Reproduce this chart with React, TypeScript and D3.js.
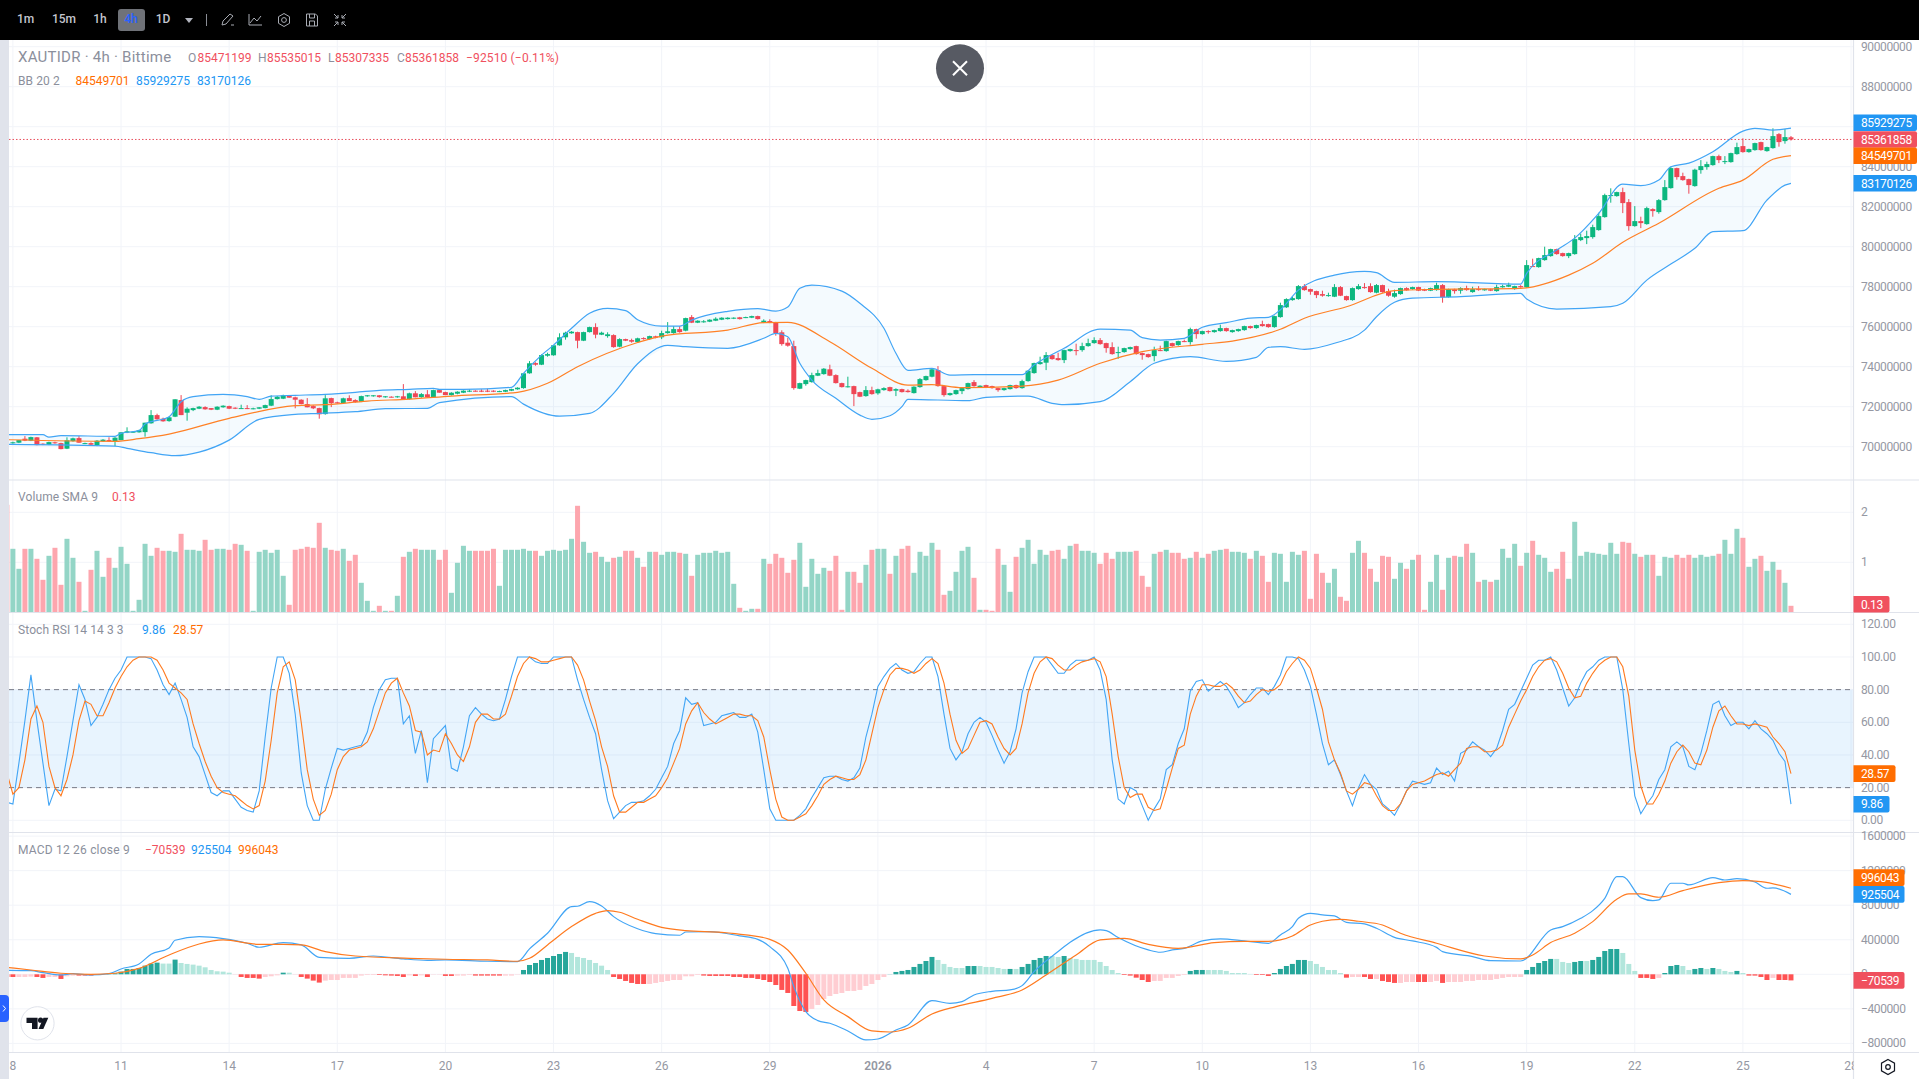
import React from "react";
import * as d3 from "d3";

// ---------- data (prices in millions, MACD in thousands) ----------
const dateLabels = ["8","11","14","17","20","23","26","29","2026","4","7","10","13","16","19","22","25","28"];
const priceTicks = [90,88,86,84,82,80,78,76,74,72,70];
const volumeTicks = [1,2];
const stochTicks = [0,20,40,60,80,100,120];
const macdTicks = [1600,1200,800,400,0,-400,-800];

// open, high, low, close per bar
const ohlc: number[][] = [
[70.18,70.25,70.15,70.22],[70.2,70.33,70.18,70.33],[70.4,70.53,70.28,70.3],[70.3,70.5,70.28,70.48],[70.47,70.48,70.07,70.08],[70.15,70.17,70.08,70.1],[70.1,70.25,70.08,70.23],[70.22,70.25,70.15,70.17],[70.18,70.2,69.87,69.88],[69.9,70.47,69.88,70.32],
[70.28,70.45,70.25,70.42],[70.43,70.53,70.2,70.2],[70.15,70.2,70.13,70.18],[70.18,70.22,70.05,70.1],[70.08,70.33,70.03,70.3],[70.27,70.38,70.25,70.35],[70.33,70.47,70.25,70.27],[70.28,70.48,70.03,70.45],[70.33,70.72,70.33,70.72],[70.7,70.97,70.68,70.77],
[70.72,70.77,70.7,70.75],[70.72,70.85,70.7,70.82],[70.73,71.2,70.5,71.2],[71.17,71.83,71.15,71.58],[71.58,71.65,71.35,71.37],[71.4,71.45,71.25,71.27],[71.28,71.5,71.25,71.47],[71.5,72.37,71.48,72.37],[72.33,72.58,71.58,71.58],[71.7,71.97,71.3,71.9],
[71.83,71.95,71.78,71.93],[71.9,72.03,71.88,72.0],[71.98,72.02,71.85,71.87],[71.93,71.93,71.83,71.85],[71.85,72.02,71.83,72.0],[71.97,72.07,71.95,72.05],[72.03,72.05,71.88,71.9],[71.95,71.97,71.88,71.9],[71.92,72.1,71.9,71.93],[71.93,72.08,71.88,71.9],
[71.88,71.95,71.87,71.92],[71.9,71.98,71.88,71.97],[71.93,72.1,71.92,72.08],[72.05,72.57,72.03,72.38],[72.38,72.53,72.36,72.5],[72.4,72.6,72.38,72.57],[72.55,72.57,72.45,72.45],[72.47,72.5,71.92,72.35],[72.35,72.37,72.12,72.13],[72.13,72.43,71.97,71.97],
[72.03,72.07,71.88,71.92],[71.93,71.95,71.4,71.62],[71.63,72.58,71.6,72.42],[72.43,72.45,71.98,72.18],[72.22,72.25,72.15,72.18],[72.18,72.45,72.15,72.42],[72.43,72.57,72.28,72.28],[72.33,72.37,72.2,72.23],[72.25,72.55,72.23,72.53],[72.52,72.58,72.5,72.57],
[72.53,72.58,72.5,72.57],[72.57,72.58,72.45,72.48],[72.47,72.53,72.45,72.52],[72.5,72.52,72.46,72.47],[72.47,72.54,72.45,72.52],[72.52,73.13,72.38,72.38],[72.38,72.7,72.36,72.67],[72.67,72.78,72.47,72.47],[72.48,72.68,72.45,72.63],[72.62,72.83,72.45,72.47],
[72.47,72.85,72.45,72.83],[72.83,72.87,72.7,72.7],[72.73,72.75,72.58,72.58],[72.58,72.72,72.56,72.7],[72.65,72.77,72.62,72.75],[72.7,72.82,72.68,72.8],[72.75,72.87,72.73,72.8],[72.8,72.82,72.75,72.75],[72.8,72.87,72.73,72.75],[72.8,72.9,72.73,72.75],
[72.8,72.82,72.73,72.75],[72.75,72.8,72.73,72.78],[72.75,72.85,72.73,72.83],[72.8,72.9,72.78,72.88],[72.87,72.97,72.85,72.95],[72.93,73.67,72.9,73.67],[73.67,74.28,73.65,74.17],[74.18,74.22,74.05,74.1],[74.1,74.62,74.08,74.58],[74.55,74.7,74.5,74.63],
[74.57,75.07,74.55,75.07],[75.07,75.67,75.05,75.47],[75.47,75.75,75.35,75.7],[75.67,75.78,75.65,75.75],[75.73,75.75,74.92,75.3],[75.3,75.75,75.28,75.73],[75.73,76.0,75.71,75.98],[75.98,76.17,75.42,75.6],[75.6,75.75,75.58,75.7],[75.53,75.72,75.45,75.62],
[75.58,75.62,74.95,74.98],[75.0,75.42,74.97,75.38],[75.38,75.4,75.28,75.3],[75.33,75.4,75.2,75.25],[75.23,75.45,75.2,75.42],
[75.43,75.47,75.35,75.38],[75.38,75.55,75.35,75.53],[75.52,75.55,75.42,75.45],[75.47,75.8,75.38,75.68],[75.68,76.23,75.65,75.77],[75.68,76.03,75.65,75.88],[75.88,76.03,75.7,75.73],[75.8,76.45,75.77,76.43],[76.48,76.58,76.18,76.2],[76.2,76.32,76.18,76.3],
[76.25,76.33,76.2,76.27],[76.25,76.37,76.23,76.35],[76.3,76.47,76.28,76.4],[76.35,76.47,76.33,76.45],[76.38,76.47,76.36,76.45],[76.4,76.47,76.38,76.45],[76.47,76.49,76.36,76.38],[76.45,76.5,76.43,76.48],[76.45,76.55,76.43,76.53],[76.53,76.55,76.36,76.38],
[76.2,76.37,76.18,76.3],[76.28,76.37,76.18,76.2],[76.22,76.24,75.55,75.68],[75.72,75.82,75.05,75.13],[75.2,75.45,75.0,75.05],[75.03,75.3,72.85,72.93],[72.9,73.2,72.88,73.18],[73.13,73.35,73.05,73.33],[73.23,73.7,73.2,73.58],[73.55,73.85,73.53,73.68],
[73.63,73.93,73.6,73.9],[73.87,74.1,73.53,73.55],[73.58,73.62,73.16,73.18],[73.18,73.2,72.96,72.98],[72.98,73.5,72.96,73.02],[73.03,73.05,72.03,72.63],[72.73,72.75,72.48,72.5],[72.53,73.03,72.5,72.83],[72.83,73.0,72.6,72.63],[72.67,72.9,72.6,72.87],
[72.83,72.97,72.8,72.93],[72.98,73.0,72.76,72.78],[72.8,72.92,72.53,72.88],[72.88,72.9,72.71,72.73],[72.8,72.87,72.71,72.73],[72.68,73.02,72.66,73.0],[72.98,73.43,72.95,73.38],[73.33,73.55,73.3,73.53],[73.5,73.9,73.47,73.87],[73.83,74.03,73.0,73.03],
[73.03,73.05,72.5,72.58],[72.58,72.7,72.55,72.68],[72.63,72.85,72.6,72.83],[72.78,72.95,72.63,72.93],[72.88,73.2,72.86,73.18],[73.23,73.33,73.0,73.03],[72.98,73.07,72.96,73.05],[73.08,73.1,72.96,72.98],[73.03,73.05,72.9,72.93],[72.93,72.95,72.75,72.83],
[72.83,72.95,72.8,72.93],[72.88,73.1,72.86,73.08],[73.08,73.1,72.9,72.93],[72.93,73.35,72.9,73.28],[73.28,73.82,73.25,73.8],[73.68,74.2,73.65,74.18],[74.13,74.5,74.1,74.23],[74.2,74.73,73.83,74.58],[74.58,74.6,74.35,74.38],[74.43,74.7,74.3,74.33],
[74.33,74.85,74.18,74.83],[74.78,74.9,74.75,74.88],[74.83,75.15,74.57,74.8],[74.83,75.2,74.75,75.03],[75.03,75.4,75.0,75.18],[75.18,75.47,75.15,75.33],[75.33,75.43,75.1,75.13],[75.18,75.2,74.7,74.93],[74.98,75.22,74.6,74.63],[74.7,75.0,74.4,74.73],
[74.73,74.95,74.7,74.93],[74.88,75.0,74.85,74.98],[75.03,75.05,74.6,74.63],[74.68,74.7,74.35,74.58],[74.63,74.65,74.45,74.48],[74.53,75.0,74.27,74.83],[74.83,75.05,74.78,74.8],[74.78,75.3,74.75,75.28],[75.18,75.2,75.0,75.03],[75.08,75.3,75.05,75.28],
[75.28,75.35,75.23,75.25],[75.23,75.95,75.1,75.88],[75.88,75.9,75.4,75.63],[75.63,75.8,75.6,75.78],[75.78,75.82,75.65,75.73],[75.73,75.85,75.7,75.83],[75.78,76.1,75.75,75.93],[75.93,75.95,75.75,75.78],[75.73,75.85,75.7,75.83],[75.78,75.9,75.75,75.88],
[75.83,76.05,75.8,76.03],[76.03,76.05,75.9,75.93],[75.93,76.1,75.9,76.08],[76.13,76.3,76.0,76.03],[76.13,76.15,75.95,75.98],[75.98,76.55,75.95,76.53],[76.48,77.2,76.45,77.08],
[76.97,77.42,76.94,77.38],[77.33,77.5,77.3,77.43],[77.38,78.08,77.35,78.03],[78.03,78.13,77.8,77.83],[77.88,77.9,77.6,77.75],[77.78,77.8,77.43,77.58],[77.63,77.8,77.5,77.55],[77.53,77.7,77.5,77.58],[77.5,78.13,77.48,77.98],[77.98,78.03,77.53,77.55],
[77.53,77.55,77.3,77.33],[77.33,77.96,77.3,77.93],[77.88,78.13,77.85,78.03],[77.98,78.18,77.9,77.93],[78.03,78.17,77.7,77.73],[77.7,78.13,77.67,78.08],[78.08,78.1,77.7,77.73],[77.78,77.9,77.5,77.55],[77.5,77.85,77.45,77.68],[77.63,77.95,77.6,77.93],
[77.93,77.97,77.8,77.82],[77.88,78.0,77.85,77.98],[77.98,78.0,77.78,77.8],[77.88,77.9,77.78,77.8],[77.8,77.95,77.78,77.93],[77.83,78.2,77.8,78.08],[78.08,78.13,77.2,77.47],[77.48,77.9,77.45,77.88],[77.87,77.9,77.65,77.78],[77.8,77.97,77.65,77.93],
[77.93,78.05,77.8,77.83],[77.73,78.0,77.7,77.88],[77.88,78.03,77.8,77.83],[77.82,77.9,77.8,77.88],[77.87,77.9,77.78,77.8],[77.78,78.1,77.75,77.98],[77.97,78.1,77.95,78.03],[78.0,78.2,77.98,78.08],[77.88,78.05,77.85,78.03],[78.03,78.08,77.95,77.97],
[77.97,79.33,77.95,79.08],[79.03,79.4,79.0,79.0],[78.98,79.45,78.95,79.43],[79.33,80.0,79.3,79.58],[79.53,79.9,79.5,79.88],[79.88,79.9,79.6,79.63],[79.68,79.7,79.5,79.53],[79.53,79.7,79.43,79.68],[79.63,80.58,79.6,80.38],[80.33,80.65,80.28,80.48],
[80.43,80.8,80.13,80.53],[80.48,81.1,80.4,80.98],[80.83,81.7,80.8,81.53],[81.48,82.65,81.45,82.58],[82.53,82.92,82.2,82.58],[82.53,82.75,82.5,82.73],[82.73,82.95,81.68,82.18],[82.23,82.38,80.8,81.03],[81.03,82.03,81.0,81.28],[81.28,81.5,80.93,81.18],
[81.13,82.0,81.1,81.93],[81.88,81.92,81.5,81.78],[81.73,82.38,81.65,82.33],[82.33,83.33,82.3,82.98],[82.93,84.0,82.9,83.93],[83.93,83.95,83.35,83.48],[83.53,83.7,83.3,83.33],[83.38,83.4,82.65,83.08],[83.03,83.9,83.0,83.85],[83.83,84.33,83.65,84.03],
[83.98,84.25,83.85,84.13],[84.08,84.55,84.05,84.53],[84.53,84.6,84.18,84.33],[84.23,84.53,84.13,84.28],[84.23,84.7,84.2,84.68],[84.63,85.2,84.6,84.98],[85.03,85.42,84.7,84.73],[84.73,84.9,84.7,84.88],[84.83,85.2,84.8,85.18],[85.23,85.25,84.8,84.83],
[84.78,85.0,84.75,84.98],[84.93,85.92,84.9,85.53],[85.63,85.68,85.0,85.23],[85.28,85.88,85.15,85.48],[85.471,85.535,85.307,85.362]];

// volume, first entry is the bar clipped at the left edge
const volumes = [2.15,
1.27,.87,1.27,1.27,1.07,.65,1.13,1.29,.55,1.47,1.09,.61,.03,.85,1.23,.71,1.09,.89,1.31,.97,.03,.25,1.37,1.13,1.29,1.23,1.23,1.21,1.57,1.25,1.25,1.23,1.45,1.25,1.27,1.27,1.25,1.37,1.35,1.23,.03,1.21,1.25,1.19,1.25,.73,.15,1.25,1.27,1.31,1.29,1.79,1.29,1.25,1.23,1.27,1.03,1.15,.59,.23,.03,.13,.03,.03,.33,1.11,1.21,1.27,1.25,1.25,1.25,1.05,1.25,.39,.99,1.33,1.23,1.23,1.23,1.23,1.27,.53,1.25,1.25,1.25,1.27,1.23,1.23,1.13,1.23,1.25,1.23,1.25,1.47,2.13,1.41,1.19,1.21,1.11,1.01,1.09,1.11,1.23,1.23,1.09,
.91,1.21,1.21,1.15,1.21,1.21,1.19,1.17,.73,1.15,1.19,1.19,1.23,1.19,1.21,.57,.09,.03,.07,.07,1.07,.97,1.17,1.09,.79,1.05,1.39,.51,1.07,.77,.89,.83,1.13,.05,.81,.81,.59,.95,1.25,1.27,1.27,.77,1.13,1.27,1.33,.79,1.21,1.13,1.39,1.25,.35,.43,.81,1.23,1.31,.69,.05,.05,.03,1.27,.95,.41,1.11,1.29,1.45,.97,1.25,1.15,1.23,1.25,1.07,1.33,1.37,1.23,1.23,1.19,.97,1.19,1.07,1.21,1.21,1.21,1.23,.73,.51,1.17,1.21,1.25,1.19,1.19,1.07,1.09,1.21,1.09,1.17,1.23,1.25,1.27,1.21,1.21,1.19,1.07,1.23,1.13,.61,1.19,1.17,
.61,1.21,1.15,1.23,.27,1.17,.79,.59,.87,.31,.23,1.19,1.43,1.19,.87,.61,1.13,1.11,.67,.99,.87,1.05,1.15,.05,.61,1.15,.45,1.09,1.13,1.11,1.37,1.19,.61,.65,.61,.65,1.27,1.09,1.37,.93,1.19,1.43,1.15,1.09,.81,.87,1.21,.67,1.81,1.13,1.21,1.19,1.17,1.15,1.39,1.17,1.41,1.39,1.17,1.11,1.15,1.15,.73,1.11,1.09,1.15,1.09,1.15,1.09,1.15,1.11,1.13,1.17,1.45,1.17,1.67,1.49,.91,1.07,1.13,.83,1.01,.85,.59,.13];
const volumeDirs = "R"+
"GGRGRRGRRG"+"GRGRGGRGGG"+"GGGGRRGGRG"+"GGRRGGRRGR"+"GGGGGGRRRR"+"RRGRRGRRGG"+"GRGRGRGRGG"+"GRRGGGGRRR"+"RGGGGGGRGG"+"GGGGRGGRGG"+"RGRRG"+
"RGRGGGRGRG"+"GGGGGGRGGR"+"GRRRRRGGGG"+"GRRRGRRGRG"+"GRGRRGGGGR"+"RGGGGRGRRR"+"GGRGGGGGRR"+"GGRGGGRRRG"+"GGRRRGRGRR"+"RGRGRGGRGG"+"GRGRRGG"+
"GGGRRRRGGR"+"RGGRRGRRGG"+"RGRRGGRGRG"+"RGRGRGGGGR"+"GRGGGRRGGG"+"GGGGGGRRGR"+"GRGGGRRRGG"+"GGRGGGRGGR"+"GGRGR";

// stoch RSI %K and %D, first entry is the bar clipped at the left edge
const stochK = [11,
10,35,61,89,61,35,9,19,18,39,61,83,74,58,63,71,80,87,92,100,100,100,100,99,92,83,77,84,74,63,45,39,28,17,15,18,18,13,8,6,5,18,51,81,100,100,90,65,29,9,0,0,19,32,44,43,44,45,46,54,69,80,86,87,87,59,64,41,55,23,50,54,58,32,30,45,64,69,65,62,61,62,74,88,100,100,100,97,96,96,100,100,100,100,86,74,63,53,31,12,1,5,9,11,11,
12,15,19,26,33,47,55,75,71,72,58,59,60,64,65,66,63,63,65,54,31,7,0,0,0,0,3,7,14,20,26,27,27,25,24,26,32,51,65,82,88,93,96,92,90,91,96,100,100,88,65,44,37,42,53,60,63,60,52,43,35,42,56,78,91,100,100,100,95,90,90,95,98,98,98,100,92,74,37,13,10,20,18,9,0,7,13,31,34,47,56,79,85,86,79,82,85,82,76,69,72,77,81,81,77,82,89,
100,100,99,92,82,65,47,34,37,28,18,9,20,28,22,19,10,7,3,10,18,24,23,22,23,32,28,30,24,41,43,48,45,43,39,44,55,68,71,79,87,95,98,98,100,92,81,70,75,84,91,94,98,100,100,100,80,47,15,4,10,15,25,31,45,48,45,33,31,41,55,71,73,64,58,60,60,56,61,56,53,49,41,36,9.86];
const stochD = [29,
16,20,37,62,70,60,33,20,15,25,40,61,73,71,64,64,72,81,88,94,98,100,100,100,98,92,84,81,78,74,59,47,36,27,20,17,16,15,12,9,7,9,24,49,78,94,97,86,60,31,13,3,6,16,31,39,43,44,45,48,56,67,78,84,87,78,70,55,54,40,43,42,53,47,40,36,45,60,65,65,62,62,65,76,88,96,100,99,97,97,98,99,100,100,95,86,73,61,45,33,15,5,5,8,11,
11,13,15,20,26,35,44,59,67,72,66,62,59,61,63,65,65,64,64,61,51,31,13,2,0,0,2,4,9,15,22,25,27,26,25,25,28,37,53,69,80,89,93,93,92,90,92,96,99,96,84,65,49,41,44,52,60,61,59,51,44,40,44,59,78,90,97,100,99,95,92,92,95,97,98,99,97,88,65,39,20,14,16,16,8,6,7,19,32,44,46,65,76,83,83,82,82,84,81,76,72,73,77,80,79,80,83,
91,96,100,98,93,81,68,48,37,29,18,16,19,23,22,15,9,6,6,10,18,22,23,24,26,28,29,27,31,35,44,45,45,42,42,43,46,57,65,73,80,88,94,98,99,97,90,81,75,76,84,90,95,98,100,100,94,76,43,21,10,10,16,24,35,42,46,42,35,34,43,57,67,70,64,59,59,58,59,58,57,51,47,42,28.57];

// MACD histogram, first entry is the bar clipped at the left edge
const macdHist = [-31,
-31,-31,-31,-27,-31,-42,-31,-31,-54,-23,-15,-15,-15,-15,-8,-4,8,12,31,62,62,73,100,124,135,124,124,170,131,120,112,100,81,50,35,31,19,-4,-31,-42,-42,-50,-31,-23,-12,19,19,-4,-31,-50,-73,-96,-73,-66,-66,-42,-42,-42,-15,-8,-8,-8,-12,-15,-19,-31,-12,-19,-12,-31,-4,-4,-19,-19,-15,-15,-8,-15,-15,-15,-15,-15,-15,-15,-4,50,108,131,166,189,212,235,259,247,201,189,166,131,100,50,-31,-54,-77,-100,-112,
-112,-112,-100,-89,-77,-66,-66,-23,-23,-8,-15,-19,-19,-19,-19,-31,-31,-42,-42,-54,-66,-89,-124,-181,-216,-367,-425,-436,-401,-355,-286,-251,-228,-216,-193,-193,-181,-135,-112,-66,-31,2,27,39,50,85,120,154,201,166,120,85,73,73,96,96,96,85,85,73,62,62,62,85,120,166,189,212,212,201,212,189,178,166,166,166,143,96,50,15,-8,-15,-39,-66,-89,-77,-77,-42,-42,-19,-8,39,50,50,50,50,50,39,15,15,15,4,-8,-8,-19,15,62,
96,120,166,166,154,120,85,50,50,15,-39,-31,-31,-31,-54,-54,-77,-89,-100,-100,-89,-89,-89,-89,-89,-77,-100,-89,-89,-89,-77,-77,-66,-66,-66,-54,-42,-31,-31,-31,50,85,131,154,178,178,143,131,143,154,154,166,201,270,293,293,247,120,39,-42,-42,-54,-42,15,96,108,96,50,62,73,62,73,62,39,27,39,15,-15,-15,-31,-66,-42,-66,-66,-70.539];
const macdHistKinds = "R"+
"RPPPRRPPRP"+"PRRRPPDDDD"+"DDDDDLLDLL"+"LLLLLLLPRR"+"RRPPPDLPRR"+"RRPPPPPPPP"+"PRRRRRPRPR"+"PPRRPPPRRR"+"RRPPPDDDDD"+"DDDLLLLLLL"+"RRRRR"+
"RPPPPPPPPP"+"RRRRRRRRRR"+"RRRRRRRRPP"+"PPPPPPPPPP"+"PDDDDDDDDL"+"LLLLDDLLLL"+"LDLDDDDDLL"+"DLLLLLLLLL"+"RRRRRPPPPP"+"PDDDLLLLLL"+"LLRRRDD"+
"DDDDLLLLLL"+"RPPRRPRRRP"+"PPRRPPRPPP"+"PPPPPPPPPP"+"DDDDDLLLDD"+"LDDDDDLLLR"+"RRPDDDLLDD"+"LDLLLDLRRR"+"RPRRR";

// [bar, value] points
const bbUpper = [[-1,70.6],[5,70.6],[6,70.48],[8,70.55],[17,70.52],[18,70.67],[21,70.8],[22,71.13],[26,71.5],[28,72.25],[30,72.5],[35,72.62],[39,72.5],[41,72.37],[43,72.53],[47,72.57],[52,72.62],[57,72.72],[61,72.82],[66,72.87],[70,72.92],[71,72.87],[75,72.87],[83,72.97],[85,73.67],[88,74.58],[90,75.08],[93,75.92],[96,76.67],[99,76.92],[102,76.8],[104,76.35],[108,76.03],[111,76.03],[113,76.33],[119,76.77],[124,76.9],[127,76.78],[129,76.98],[131,77.92],[133,78.08],[138,77.78],[141,77.17],[145,75.92],[147,74.67],[149,73.82],[153,73.92],[156,73.58],[160,73.6],[168,73.6],[170,74.08],[175,74.92],[181,75.88],[186,75.83],[188,75.45],[191,75.33],[195,75.42],[198,75.97],[202,76.2],[206,76.43],[209,76.47],[211,76.85],[214,77.83],[220,78.58],[225,78.77],[227,78.7],[230,78.22],[237,78.25],[251,78.13],[252,78.67],[257,79.83],[260,80.43],[264,81.67],[268,83.13],[271,83.05],[274,83.33],[276,84.0],[279,84.18],[283,84.75],[288,85.78],[290,85.92],[293,85.83],[296,85.929]];
const bbMiddle = [[-1,70.35],[17,70.27],[21,70.4],[26,70.63],[36,71.42],[47,72.05],[52,72.1],[59,72.28],[66,72.38],[73,72.53],[84,72.72],[89,73.17],[94,74.0],[104,75.21],[108,75.53],[119,75.83],[125,76.2],[129,76.22],[136,75.25],[143,73.92],[149,73.08],[153,73.1],[158,72.95],[168,73.03],[174,73.33],[181,74.17],[188,74.75],[198,75.12],[203,75.28],[211,75.87],[215,76.42],[222,77.0],[230,77.8],[237,77.87],[251,77.92],[259,78.58],[263,79.17],[268,80.22],[274,81.17],[284,82.92],[288,83.33],[293,84.37],[296,84.55]];
const bbLower = [[-1,70.12],[17,70.03],[19,69.92],[23,69.7],[27,69.55],[31,69.73],[36,70.33],[41,71.37],[47,71.62],[51,71.67],[57,71.75],[62,71.9],[69,71.92],[71,72.2],[83,72.5],[85,72.13],[91,71.53],[96,71.67],[100,72.67],[104,74.15],[109,75.07],[112,75.0],[119,74.92],[125,75.42],[127,75.67],[129,75.5],[131,74.17],[133,73.33],[137,72.42],[141,71.58],[143,71.37],[146,71.55],[148,72.0],[149,72.37],[159,72.3],[162,72.47],[169,72.53],[173,72.17],[175,72.1],[181,72.25],[186,73.25],[190,74.17],[196,74.5],[202,74.27],[207,74.47],[209,74.97],[211,75.0],[215,74.87],[220,75.17],[225,75.83],[227,76.5],[230,77.22],[233,77.43],[241,77.5],[251,77.67],[252,77.38],[257,76.88],[266,77.0],[268,77.17],[272,78.33],[276,79.13],[280,79.92],[283,80.75],[288,80.8],[292,82.33],[295,83.08],[296,83.17]];
const macdLine = [[-1,46],[3,42],[5,19],[8,-8],[10,8],[13,-8],[16,8],[18,62],[21,120],[23,232],[26,305],[27,394],[31,436],[35,413],[39,359],[41,313],[45,367],[48,340],[51,197],[56,185],[60,212],[65,178],[69,162],[72,166],[79,151],[84,147],[86,294],[89,475],[93,784],[94,788],[96,842],[98,792],[100,668],[104,527],[107,471],[111,452],[112,490],[116,494],[121,444],[124,405],[126,320],[129,69],[130,-143],[132,-432],[134,-536],[136,-567],[139,-656],[142,-760],[144,-749],[147,-645],[149,-586],[153,-305],[156,-336],[158,-317],[160,-239],[163,-197],[166,-181],[168,-131],[170,31],[174,263],[176,371],[181,514],[182,506],[184,425],[189,282],[191,255],[193,282],[195,301],[198,386],[201,409],[205,386],[209,359],[211,456],[213,552],[214,649],[216,706],[218,687],[220,676],[222,602],[225,583],[227,533],[230,428],[233,386],[237,312],[238,262],[243,205],[246,158],[251,154],[256,513],[258,552],[261,649],[263,737],[265,880],[267,1131],[268,1131],[271,888],[273,853],[274,861],[276,1054],[278,1054],[279,1035],[283,1119],[285,1092],[287,1108],[290,1069],[292,996],[293,1000],[296,925.5]];
const macdSignal = [[-1,81],[3,50],[8,12],[13,0],[17,12],[21,69],[26,224],[31,351],[35,398],[41,347],[45,347],[48,340],[52,263],[57,212],[66,185],[72,174],[79,166],[84,151],[86,185],[89,340],[93,552],[97,706],[99,737],[101,718],[104,637],[108,544],[112,506],[118,486],[122,456],[126,405],[129,282],[132,12],[135,-297],[139,-490],[143,-656],[146,-668],[149,-625],[153,-459],[157,-374],[163,-278],[168,-181],[172,-8],[177,224],[181,398],[185,417],[189,347],[194,301],[200,367],[205,382],[209,382],[211,398],[213,444],[216,571],[218,614],[221,637],[224,614],[228,571],[231,475],[237,359],[245,212],[251,178],[253,224],[256,367],[260,475],[263,610],[267,869],[269,930],[271,930],[274,892],[278,969],[284,1061],[288,1085],[291,1073],[296,996]];

// ---------- layout ----------
const W = 1919, H = 1079, LEFT = 9, RIGHT = 1853.5, TOP = 40;
const FONT = "Roboto, 'Liberation Sans', sans-serif";
const GRID = "#f2f4f9", SEP = "#e0e3eb", TXT = "#8b8f9c";
const UP = "#0cb77f", DOWN = "#ef4655", VOL_UP = "#93d5c6", VOL_DOWN = "#fda6ae";
const BLUE = "#2196f3", ORANGE = "#ff6d00", RED = "#f0505e";
const HIST: Record<string,string> = { D: "#26a69a", L: "#b2e6dc", P: "#ffcdd2", R: "#ff5252" };

const x = d3.scaleLinear().domain([0, 296]).range([12.9, 12.9 + 296 * 6.007]);
const yP = d3.scaleLinear().domain([70, 90]).range([446.7, 46.7]);
const yV = d3.scaleLinear().domain([0, 2]).range([612.3, 512.3]);
const yS = d3.scaleLinear().domain([0, 120]).range([820.3, 624.3]);
const yM = d3.scaleLinear().domain([0, 1600]).range([974.3, 836.1]);
const fmt = (v: number) => Math.round(v).toString();
const minus = (s: string) => s.replace("-", "\u2212");

const smooth = (y: d3.ScaleLinear<number, number>) =>
  d3.line<number[]>().x(d => x(d[0])).y(d => y(d[1])).curve(d3.curveMonotoneX);
const perBar = (y: d3.ScaleLinear<number, number>) =>
  d3.line<number>().x((_, i) => x(i - 1)).y(d => y(d));

function Label({ x: lx, y: ly, t, c = TXT, w, size = 12, anchor = "start", ls = 0 }: any) {
  return <text x={lx} y={ly} fill={c} fontSize={size} fontWeight={w} fontFamily={FONT} textAnchor={anchor} letterSpacing={ls} dominantBaseline="central">{t}</text>;
}
function AxisText({ y, t }: { y: number; t: string }) {
  return <text x={1861} y={y} fill="#9598a3" fontSize={12} fontFamily={FONT} letterSpacing={-0.4} dominantBaseline="central">{t}</text>;
}
function Tag({ y, t, c, w }: { y: number; t: string; c: string; w: number }) {
  return <g>
    <path d={`M${RIGHT} ${y - 8.3}H${RIGHT + w - 2}a2 2 0 0 1 2 2V${y + 6.3}a2 2 0 0 1 -2 2H${RIGHT}Z`} fill={c} />
    <text x={1861} y={y + 0.3} fill="#fff" fontSize={12} fontFamily={FONT} letterSpacing={-0.4} dominantBaseline="central">{t}</text>
  </g>;
}

export default function App() {
  const bands = (bbUpper.concat(bbLower.slice().reverse()));
  const bandPath = d3.line<number[]>().x(d => x(d[0])).y(d => yP(d[1]))(bands) + "Z";
  const gridX = dateLabels.map((_, i) => x(i * 18));
  const lastClose = ohlc[ohlc.length - 1][3];
  const macdLast = macdHist[macdHist.length - 1];
  const tagGap = 16.7;
  return (
    <svg width={W} height={H} viewBox={`0 0 ${W} ${H}`} style={{ position: "fixed", left: 0, top: 0, background: "#fff", display: "block" }}>
      <defs>
        <clipPath id="plot"><rect x={LEFT} y={TOP} width={RIGHT - LEFT} height={1052 - TOP} /></clipPath>
        <clipPath id="axisclip"><rect x={LEFT} y={1052} width={RIGHT - LEFT} height={27} /></clipPath>
      </defs>
      <rect width={W} height={H} fill="#fff" />

      {/* grid */}
      <g stroke={GRID} strokeWidth={1}>
        {gridX.filter(g => g < RIGHT).map(g => <line key={g} x1={g} x2={g} y1={TOP} y2={1052} />)}
        {priceTicks.map(t => <line key={t} x1={LEFT} x2={RIGHT} y1={yP(t)} y2={yP(t)} />)}
        {volumeTicks.map(t => <line key={t} x1={LEFT} x2={RIGHT} y1={yV(t)} y2={yV(t)} />)}
        {stochTicks.map(t => <line key={t} x1={LEFT} x2={RIGHT} y1={yS(t)} y2={yS(t)} />)}
        {macdTicks.map(t => <line key={t} x1={LEFT} x2={RIGHT} y1={yM(t)} y2={yM(t)} />)}
      </g>

      <g clipPath="url(#plot)">
        {/* price pane */}
        <path d={bandPath} fill="rgba(33,150,243,0.05)" />
        <line x1={LEFT} x2={RIGHT} y1={yP(lastClose)} y2={yP(lastClose)} stroke="#e9505e" strokeWidth={1} strokeDasharray="1.5 2" />
        {ohlc.map((d, i) => {
          const col = d[3] >= d[0] ? UP : DOWN;
          const cx = x(i);
          const top = yP(Math.max(d[0], d[3])), bot = yP(Math.min(d[0], d[3]));
          return <g key={i}>
            <line x1={cx} x2={cx} y1={yP(d[1])} y2={yP(d[2])} stroke={col} strokeWidth={1} />
            <rect x={cx - 2.5} y={top} width={5} height={Math.max(1, bot - top)} fill={col} />
          </g>;
        })}
        <path d={smooth(yP)(bbUpper) as string} fill="none" stroke="#42a5f5" strokeWidth={1.2} />
        <path d={smooth(yP)(bbLower) as string} fill="none" stroke="#42a5f5" strokeWidth={1.2} />
        <path d={smooth(yP)(bbMiddle) as string} fill="none" stroke="#ff8126" strokeWidth={1.2} />

        {/* volume pane */}
        {volumes.map((v, i) => (
          <rect key={i} x={x(i - 1) - 2.5} y={yV(v)} width={5} height={yV(0) - yV(v)} fill={volumeDirs[i] === "G" ? VOL_UP : VOL_DOWN} />
        ))}

        {/* stoch pane */}
        <rect x={LEFT} width={RIGHT - LEFT} y={yS(80)} height={yS(20) - yS(80)} fill="rgba(33,150,243,0.1)" />
        {[80, 20].map(t => <line key={t} x1={LEFT} x2={RIGHT} y1={yS(t)} y2={yS(t)} stroke="#787b86" strokeWidth={1} strokeDasharray="5 4" />)}
        <path d={perBar(yS)(stochK) as string} fill="none" stroke="#42a5f5" strokeWidth={1.1} />
        <path d={perBar(yS)(stochD) as string} fill="none" stroke="#ff7a1f" strokeWidth={1.1} />

        {/* macd pane */}
        {macdHist.map((v, i) => {
          const y0 = yM(0), y1 = yM(v);
          return <rect key={i} x={x(i - 1) - 2.5} y={Math.min(y0, y1)} width={5} height={Math.abs(y1 - y0)} fill={HIST[macdHistKinds[i]]} />;
        })}
        <path d={smooth(yM)(macdLine) as string} fill="none" stroke="#42a5f5" strokeWidth={1.2} />
        <path d={smooth(yM)(macdSignal) as string} fill="none" stroke="#ff7a1f" strokeWidth={1.2} />
      </g>

      {/* separators and frame */}
      {[480, 612.5, 832.5, 1052.5].map(y => <line key={y} x1={LEFT} x2={W} y1={y} y2={y} stroke={SEP} strokeWidth={1.2} />)}
      <line x1={RIGHT} x2={RIGHT} y1={TOP} y2={H} stroke={SEP} strokeWidth={1.2} />

      {/* axis labels */}
      {priceTicks.map(t => <AxisText key={t} y={yP(t)} t={fmt(t * 1e6)} />)}
      {volumeTicks.map(t => <AxisText key={t} y={yV(t)} t={String(t)} />)}
      {stochTicks.map(t => <AxisText key={t} y={yS(t)} t={t.toFixed(2)} />)}
      {macdTicks.map(t => <AxisText key={t} y={yM(t)} t={minus(fmt(t * 1000))} />)}
      <g clipPath="url(#axisclip)">
        {dateLabels.map((d, i) => <Label key={d + i} x={x(i * 18)} y={1065.7} t={d} c="#9598a3" anchor="middle" w={d === "2026" ? 600 : 400} />)}
      </g>

      {/* last value tags */}
      <Tag y={yP(lastClose) - tagGap} t="85929275" c={BLUE} w={63.5} />
      <Tag y={yP(lastClose)} t="85361858" c={RED} w={63.5} />
      <Tag y={yP(bbMiddle[bbMiddle.length - 1][1])} t="84549701" c={ORANGE} w={63.5} />
      <Tag y={yP(bbLower[bbLower.length - 1][1])} t="83170126" c={BLUE} w={63.5} />
      <Tag y={yV(volumes[volumes.length - 1]) - 1.5} t="0.13" c={RED} w={36} />
      <Tag y={yS(stochD[stochD.length - 1])} t="28.57" c={ORANGE} w={42} />
      <Tag y={yS(stochK[stochK.length - 1])} t="9.86" c={BLUE} w={36} />
      <Tag y={yM(macdLine[macdLine.length - 1][1]) - tagGap} t="996043" c={ORANGE} w={51} />
      <Tag y={yM(macdLine[macdLine.length - 1][1])} t="925504" c={BLUE} w={51} />
      <Tag y={yM(macdLast)} t={"\u221270539"} c={RED} w={51} />

      {/* legends */}
      <Label x={18} y={57.3} size={15} ls={0.25} t="XAUTIDR · 4h · Bittime" c="#8b8f9c" />
      {[["O", 188, "85471199", 197.5], ["H", 258, "85535015", 267], ["L", 328, "85307335", 335], ["C", 397, "85361858", 405]].map(r => (
        <g key={r[0] as string}>
          <Label x={r[1]} y={57.6} t={r[0]} />
          <Label x={r[3]} y={57.6} t={r[2]} c={RED} />
        </g>
      ))}
      <Label x={466} y={57.6} ls={0.15} t={"\u221292510 (\u22120.11%)"} c={RED} />
      <Label x={18} y={80.7} ls={0.1} t="BB 20 2" />
      <Label x={75.5} y={80.7} t="84549701" c={ORANGE} />
      <Label x={136} y={80.7} t="85929275" c={BLUE} />
      <Label x={197} y={80.7} t="83170126" c={BLUE} />
      <Label x={18} y={496.7} ls={0.1} t="Volume SMA 9" />
      <Label x={112} y={496.7} t="0.13" c={RED} />
      <Label x={18} y={629.7} ls={0.1} t="Stoch RSI 14 14 3 3" />
      <Label x={142} y={629.7} t="9.86" c={BLUE} />
      <Label x={173} y={629.7} t="28.57" c={ORANGE} />
      <Label x={18} y={849.7} ls={0.2} t="MACD 12 26 close 9" />
      <Label x={145} y={849.7} t={"\u221270539"} c={RED} />
      <Label x={191} y={849.7} t="925504" c={BLUE} />
      <Label x={238} y={849.7} t="996043" c={ORANGE} />

      {/* left strip */}
      <rect x={0} y={TOP} width={LEFT} height={H - TOP} fill={SEP} />
      <path d="M0 995H5a4 4 0 0 1 4 4V1018a4 4 0 0 1 -4 4H0Z" fill="#2962ff" />
      <path d="M3 1005.5l2.5 3-2.5 3" fill="none" stroke="#fff" strokeWidth={1} />

      {/* logo */}
      <circle cx={37.5} cy={1023.3} r={16.6} fill="#fff" stroke={SEP} strokeWidth={1} />
      <path d="M26.5 1017.7H37.6V1029H32V1023H26.5Z" fill="#131722" />
      <circle cx={40.6} cy={1020.2} r={2.6} fill="#131722" />
      <path d="M43.5 1017.7H48.3L43.3 1029H38.5Z" fill="#131722" />

      {/* settings */}
      <path d="M1888 1059.5l6.5 3.7v7.6l-6.5 3.7-6.5-3.7v-7.6Z" fill="none" stroke="#131722" strokeWidth={1.2} />
      <circle cx={1888} cy={1067} r={2.3} fill="none" stroke="#131722" strokeWidth={1.2} />

      {/* toolbar */}
      <rect width={W} height={TOP} fill="#000" />
      <rect x={118} y={9} width={27} height={22} rx={3} fill="#6f7278" />
      {[["1m", 25.7], ["15m", 64], ["1h", 100], ["4h", 131], ["1D", 163]].map(r => (
        <Label key={r[0] as string} x={r[1]} y={19} t={r[0]} c={r[0] === "4h" ? "#2962ff" : "#c3c6ce"} anchor="middle" w={500} />
      ))}
      <path d="M185 18h8l-4 5Z" fill="#b2b5be" />
      <line x1={206.5} x2={206.5} y1={14} y2={26} stroke="#8a8d95" />
      <g fill="none" stroke="#a9acb4" strokeWidth={1}>
        <path d="M222 25l1-4 7-7 3 2-7 8Zm9 0h3" />
        <path d="M249 14v11h13M250 23l4-5 3 3 4-5" />
        <circle cx={284} cy={20} r={2.4} />
        <path d="M284 13.5l5.5 3.2v6.6l-5.5 3.2-5.5-3.2v-6.6Z" />
        <path d="M306.5 14h9l2 2v10h-11Zm3 0v4h5v-4m-5 12v-5h5v5" />
        <path d="M334 14l4 4m0-3v3h-3m11-4l-4 4m0-3v3h3m-11 8l4-4m0 3v-3h-3m11 4l-4-4m0 3v-3h3" />
      </g>

      {/* close button */}
      <circle cx={960} cy={68.3} r={24} fill="#575a63" />
      <path d="M953 61.3l14 14m0-14l-14 14" stroke="#fff" strokeWidth={2} />
    </svg>
  );
}
